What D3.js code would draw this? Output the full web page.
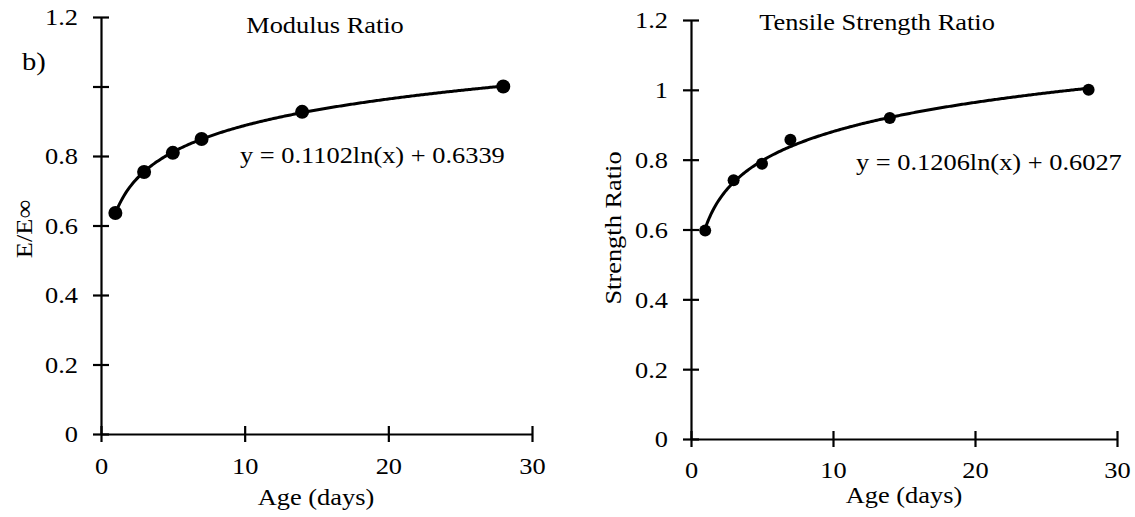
<!DOCTYPE html>
<html>
<head>
<meta charset="utf-8">
<script src="https://cdn.jsdelivr.net/npm/d3@7"></script>
<style>
  html, body { margin: 0; padding: 0; background: #fff; }
</style>
</head>
<body>
<svg id="chart" width="1135" height="517"></svg>
<script>
// Age at test (days)
const ages = [1, 3, 5, 7, 14, 28];
// Measured ratios
const modulusRatio = [0.636, 0.754, 0.809, 0.849, 0.927, 1.0];
const strengthRatio = [0.597, 0.741, 0.788, 0.857, 0.919, 1.0];
// Logarithmic trend coefficients: y = a ln(x) + b
const modulusFit = [0.1102, 0.6339];
const strengthFit = [0.1206, 0.6027];
// Axis ticks
const xTicks = [0, 10, 20, 30];
const yTicks = [0, 0.2, 0.4, 0.6, 0.8, 1, 1.2];
const modulusYLabels = ["0", "0.2", "0.4", "0.6", "0.8", "", "1.2"];
const strengthYLabels = ["0", "0.2", "0.4", "0.6", "0.8", "1", "1.2"];

const FONT = "'Liberation Serif', 'Times New Roman', serif";
const FS = 24;      // text size
const SX = 1.1;     // horizontal text stretch

const svg = d3.select("#chart");

function label(parent, x, y, txt, anchor, size, rotate) {
  const t = parent.append("text")
    .attr("transform", `translate(${x},${y})` + (rotate ? ` rotate(${rotate})` : "") + ` scale(${SX},1)`)
    .attr("font-family", FONT).attr("font-size", size || FS).attr("fill", "#000")
    .attr("text-anchor", anchor || "start").text(txt);
  return t;
}

function panel(opts) {
  const g = svg.append("g");
  const x = d3.scaleLinear().domain([0, 30]).range([opts.x0, opts.x1]);
  const y = d3.scaleLinear().domain([0, 1.2]).range([opts.y0, opts.y1]);

  // y axis
  const yAxis = d3.axisLeft(y).tickValues(yTicks)
    .tickSizeInner(8).tickSizeOuter(0).tickPadding(15)
    .tickFormat((d, i) => opts.yLabels[i]);
  const ya = g.append("g").attr("transform", `translate(${opts.x0},0)`).call(yAxis);
  ya.selectAll(".tick line").attr("x2", -8).attr("x1", 8);
  ya.selectAll(".tick text").attr("x", -23 / SX).attr("dy", "0.33em")
    .attr("transform", `scale(${SX},1)`);

  // x axis
  const xAxis = d3.axisBottom(x).tickValues(xTicks)
    .tickSizeInner(8).tickSizeOuter(0).tickPadding(14)
    .tickFormat(d3.format("d"));
  const xa = g.append("g").attr("transform", `translate(0,${opts.y0})`).call(xAxis);
  xa.selectAll(".tick line").attr("y1", -8).attr("y2", 8);
  xa.selectAll(".tick text").attr("y", 0).attr("dy", opts.xTickDy)
    .attr("transform", `scale(${SX},1)`);

  [ya, xa].forEach(a => {
    a.attr("font-family", FONT).attr("font-size", FS);
    a.selectAll("path.domain").attr("stroke", "#000").attr("stroke-width", 2.2);
    a.selectAll(".tick line").attr("stroke", "#000").attr("stroke-width", 2.2);
    a.selectAll(".tick text").attr("fill", "#000");
  });

  // trend curve
  const fit = t => opts.fit[0] * Math.log(t) + opts.fit[1];
  const curvePts = d3.range(1, 28.001, 0.1).map(t => [t, fit(t)]);
  g.append("path")
    .datum(curvePts)
    .attr("fill", "none").attr("stroke", "#000").attr("stroke-width", 3)
    .attr("d", d3.line().x(d => x(d[0])).y(d => y(d[1])));

  // data points
  g.selectAll("circle.pt").data(ages.map((a, i) => [a, opts.values[i]]))
    .join("circle").attr("class", "pt")
    .attr("cx", d => x(d[0])).attr("cy", d => y(d[1]))
    .attr("r", opts.r).attr("fill", "#000");

  label(g, opts.titleX, opts.titleY, opts.title, "middle");
  label(g, opts.eqX, opts.eqY, `y = ${opts.fit[0]}ln(x) + ${opts.fit[1]}`, "start");
  label(g, opts.xtX, opts.xtY, "Age (days)", "middle");
  label(g, opts.ytX, opts.ytY, opts.yTitle, "middle", FS, -90);
}

panel({
  x0: 101, x1: 532, y0: 434, y1: 17,
  values: modulusRatio, fit: modulusFit, yLabels: modulusYLabels, r: 7,
  xTickDy: 40,
  title: "Modulus Ratio", titleX: 325, titleY: 33,
  eqX: 240, eqY: 163,
  xtX: 316, xtY: 505,
  yTitle: "E/E∞", ytX: 32, ytY: 229
});

panel({
  x0: 691, x1: 1117, y0: 439, y1: 20,
  values: strengthRatio, fit: strengthFit, yLabels: strengthYLabels, r: 6,
  xTickDy: 39,
  title: "Tensile Strength Ratio", titleX: 877, titleY: 30,
  eqX: 856, eqY: 170,
  xtX: 904, xtY: 503,
  yTitle: "Strength Ratio", ytX: 621, ytY: 228
});

// panel tag
label(svg, 22, 70, "b)", "start", 26);
</script>
</body>
</html>
